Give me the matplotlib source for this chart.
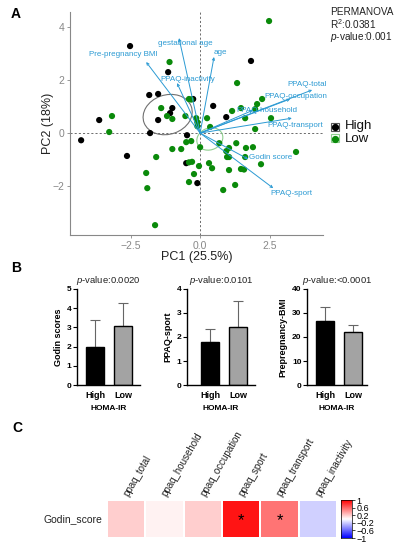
import numpy as np
import matplotlib
matplotlib.use('Agg')
import matplotlib.pyplot as plt
from matplotlib.patches import Ellipse, Rectangle
from matplotlib.colors import LinearSegmentedColormap

plt.rcParams['font.family'] = ['Liberation Sans', 'DejaVu Sans']
plt.rcParams['mathtext.fontset'] = 'custom'
plt.rcParams['mathtext.it'] = 'Liberation Sans:italic'
plt.rcParams['mathtext.rm'] = 'Liberation Sans'
plt.rcParams['mathtext.bf'] = 'Liberation Sans:bold'

# ---------------- data: panel A (PCA biplot) ----------------
pc1_high = [-2.52, -1.15, -1.83, -1.51, -0.25, -1.00, -1.08, -1.51, -3.63, -1.80,
            -4.28, -0.47, -2.63, -0.50, -0.10, 1.83, 0.47, 0.94]
pc2_high = [3.27, 2.29, 1.43, 1.47, 1.28, 0.94, 0.75, 0.49, 0.49, 0.00,
            -0.27, -0.08, -0.86, -1.13, -1.88, 2.71, 1.02, 0.60]
pc1_low = [-1.10, -0.40, -0.32, -1.40, -1.19, -1.00, -0.53, -3.17, -3.27, -0.14,
           -0.10, -0.10, -1.58, -1.00, -0.68, -0.50, -0.32, -0.40, -0.29, -1.94,
           -1.90, -0.22, -0.40, -1.62, -0.04, 0.00, 0.69, 1.30, 0.94, 1.04,
           0.97, 1.04, 1.65, 1.90, 1.62, 3.45, 0.32, 0.43, 1.04, 1.47,
           1.58, 2.19, 0.83, 1.26, 2.48, 1.33, 2.23, 2.05, 1.47, 1.15,
           1.62, 2.55, 1.98, 0.25, 0.36, 1.98]
pc2_low = [2.67, 1.28, 1.26, 0.94, 0.64, 0.53, 0.64, 0.64, 0.04, 0.56,
           0.41, 0.26, -0.90, -0.60, -0.60, -0.34, -0.30, -1.10, -1.08, -1.50,
           -2.07, -1.54, -1.84, -3.46, -1.24, -0.53, -0.38, -0.38, -0.68, -0.56,
           -0.90, -0.90, -0.56, -0.53, -0.90, -0.71, -1.13, -1.32, -1.39, -1.35,
           -1.37, -1.17, -2.14, -1.95, 4.21, 1.88, 1.28, 1.09, 0.94, 0.83,
           0.56, 0.56, 0.90, 0.56, 0.23, 0.15]

var_names = ['Pre-pregnancy BMI', 'gestational age', 'age', 'PPAQ-inactivity',
             'PPAQ-total', 'PPAQ-occupation', 'PPAQ-household', 'PPAQ-transport',
             'Godin score', 'PPAQ-sport']
load_pc1 = [-1.94, -0.76, 0.50, -0.83, 4.03, 3.24, 1.90, 3.30, 1.73, 2.63]
load_pc2 = [2.67, 3.57, 2.86, 1.88, 1.62, 1.28, 0.86, 0.56, -0.98, -2.07]

permanova_lines = ['PERMANOVA', r'R$^{2}$:0.0381', r'$\it{p}$-value:0.001']
group_names = ['High', 'Low']

# ---------------- data: panel B (bar charts) ----------------
bar_groups = ['High', 'Low']
godin_mean = [2.00, 3.05]
godin_sd = [1.37, 1.20]
sport_mean = [1.79, 2.42]
sport_sd = [0.54, 1.08]
bmi_mean = [26.6, 22.2]
bmi_sd = [5.7, 2.8]
bar_pvalues = ['0.0020', '0.0101', '<0.0001']
bar_ylabels = ['Godin scores', 'PPAQ-sport', 'Prepregnancy-BMI']
bar_xlabel = 'HOMA-IR'

# ---------------- data: panel C (correlation heatmap) ----------------
heat_cols = ['ppaq_total', 'ppaq_household', 'ppaq_occupation', 'ppaq_sport',
             'ppaq_transport', 'ppaq_inactivity']
heat_row = 'Godin_score'
heat_vals = [0.19, 0.05, 0.19, 0.92, 0.54, -0.18]
heat_sig = [False, False, False, True, True, False]
cbar_ticks = [1, 0.6, 0.2, -0.2, -0.6, -1]

# ---------------- layout helpers ----------------
W, H = 399, 550
fig = plt.figure(figsize=(W / 100, H / 100), dpi=100)


def px_axes(l, t, r, b):
    return fig.add_axes([l / W, 1 - b / H, (r - l) / W, (b - t) / H])


def fig_text(x, y, s, **kw):
    fig.text(x / W, 1 - y / H, s, **kw)


BLUE = '#2b9ad3'
GREEN = '#0a8a0a'

# ---------------- Panel A ----------------
axA = px_axes(70, 12, 323, 235)
axA.set_xlim(-4.68, 4.42)
axA.set_ylim(-3.83, 4.55)
axA.axhline(0, color='#555555', lw=0.6, ls=(0, (2.5, 2.5)), zorder=1)
axA.axvline(0, color='#555555', lw=0.6, ls=(0, (2.5, 2.5)), zorder=1)

k95 = np.sqrt(5.991)
for xs, ys, col, ecol in [(pc1_high, pc2_high, 'black', '#707070'),
                          (pc1_low, pc2_low, GREEN, '#8fcf8f')]:
    xs = np.array(xs); ys = np.array(ys)
    axA.scatter(xs, ys, s=20, color=col, edgecolors='none', zorder=3)
    cov = np.cov(xs, ys) / len(xs)
    vals, vecs = np.linalg.eigh(cov)
    ang = np.degrees(np.arctan2(vecs[1, 1], vecs[0, 1]))
    e = Ellipse((xs.mean(), ys.mean()), 2 * k95 * np.sqrt(vals[1]), 2 * k95 * np.sqrt(vals[0]),
                angle=ang, fill=False, edgecolor=ecol, lw=0.8, zorder=2)
    axA.add_patch(e)

label_off = {
    'Pre-pregnancy BMI': (-0.83, 0.30), 'gestational age': (0.22, -0.19),
    'age': (0.22, 0.18), 'PPAQ-inactivity': (0.40, 0.15),
    'PPAQ-total': (-0.18, 0.22), 'PPAQ-occupation': (0.21, 0.11),
    'PPAQ-household': (0.50, -0.03), 'PPAQ-transport': (0.12, -0.26),
    'Godin score': (0.79, 0.08), 'PPAQ-sport': (0.67, -0.19)}
for name, lx, ly in zip(var_names, load_pc1, load_pc2):
    axA.annotate('', xy=(lx, ly), xytext=(0, 0),
                 arrowprops=dict(arrowstyle='->', color=BLUE, lw=0.7,
                                 mutation_scale=4, shrinkA=0, shrinkB=0), zorder=4)
    dx, dy = label_off[name]
    axA.text(lx + dx, ly + dy, name, color=BLUE, fontsize=5.8, ha='center',
             va='center', zorder=5, clip_on=False)

for s in ['top', 'right']:
    axA.spines[s].set_visible(False)
for s in ['left', 'bottom']:
    axA.spines[s].set_color('#888888')
    axA.spines[s].set_linewidth(0.8)
axA.set_xticks([-2.5, 0.0, 2.5])
axA.set_xticklabels(['\u22122.5', '0.0', '2.5'])
axA.set_yticks([-2, 0, 2, 4])
axA.set_yticklabels(['\u22122', '0', '2', '4'])
axA.tick_params(colors='#888888', labelsize=7.5, length=2.5, width=0.6, pad=1.5)
axA.set_xlabel('PC1 (25.5%)', fontsize=9, color='#222222', labelpad=0)
axA.set_ylabel('PC2 (18%)', fontsize=9, color='#222222', labelpad=-1)

for i, s in enumerate(permanova_lines):
    fig_text(330, 12 + i * 12.5, s, fontsize=7.2, va='center', ha='left', color='#222222')

# legend
for i, (g, col, ecol) in enumerate(zip(group_names, ['black', GREEN], ['#555555', '#8fcf8f'])):
    yc = 126.5 + i * 12
    fig.patches.append(Rectangle(((331) / W, 1 - (yc + 4) / H), 8 / W, 8 / H,
                                 transform=fig.transFigure, fill=False,
                                 edgecolor=ecol, lw=0.8))
    fig.lines.append(plt.Line2D([335 / W], [1 - yc / H], marker='o', markersize=4.2,
                                color=col, transform=fig.transFigure, linestyle='none'))
    fig_text(345, yc, g, fontsize=9.5, va='center', ha='left', color='#111111')

fig_text(16, 14, 'A', fontsize=10, fontweight='bold', ha='center', va='center')
fig_text(16, 268, 'B', fontsize=10, fontweight='bold', ha='center', va='center')
fig_text(17, 428, 'C', fontsize=10, fontweight='bold', ha='center', va='center')

# ---------------- Panel B ----------------
bar_specs = [
    (77, 140, 5, [0, 1, 2, 3, 4, 5], -0.643, 1.607, godin_mean, godin_sd),
    (187, 255, 4, [0, 1, 2, 3, 4], -0.82, 1.607, sport_mean, sport_sd),
    (307, 367, 40, [0, 10, 20, 30, 40], -0.643, 1.5, bmi_mean, bmi_sd),
]
for (l, r, ymax, yt, xl, xr, means, sds), pv, ylab in zip(bar_specs, bar_pvalues, bar_ylabels):
    top = 385 - 96
    ax = px_axes(l, top, r, 385)
    ax.set_xlim(xl, xr)
    ax.set_ylim(0, ymax)
    xs = np.arange(len(bar_groups))
    ax.errorbar(xs, means, yerr=[np.zeros(len(sds)), sds], fmt='none', ecolor='#666666',
                elinewidth=0.8, capsize=3.5, capthick=0.8, zorder=1)
    ax.bar(xs, means, width=0.643, color=['black', '#a3a3a3'], edgecolor='black',
           linewidth=1.0, zorder=2)
    for s in ['top', 'right']:
        ax.spines[s].set_visible(False)
    for s in ['left', 'bottom']:
        ax.spines[s].set_linewidth(1.0)
    ax.set_yticks(yt)
    ax.set_yticklabels([str(v) for v in yt], fontweight='bold')
    ax.set_xticks(xs)
    ax.set_xticklabels(bar_groups, fontweight='bold')
    ax.tick_params(axis='y', labelsize=6, length=3, width=0.8, pad=1)
    ax.tick_params(axis='x', labelsize=6.5, length=0, pad=4)
    ax.set_ylabel(ylab, fontsize=6.5, fontweight='bold', labelpad=3)
    ax.set_xlabel(bar_xlabel, fontsize=6, fontweight='bold', labelpad=4)
    ax.set_title(r'$\it{p}$-value:' + pv, fontsize=6.8, pad=4, color='#222222')

# ---------------- Panel C ----------------
cmap = LinearSegmentedColormap.from_list('bwr2', ['blue', 'white', 'red'])
axC = px_axes(107, 500, 337, 538)
vals = np.array([heat_vals])
axC.pcolormesh(np.arange(len(heat_cols) + 1), [0, 1], vals, cmap=cmap, vmin=-1, vmax=1,
               edgecolors='white', linewidth=1.2)
axC.set_xlim(0, len(heat_cols))
axC.set_ylim(0, 1)
axC.axis('off')
for i, (c, sig) in enumerate(zip(heat_cols, heat_sig)):
    axC.text(i + 0.5, 1.12, c, rotation=60, rotation_mode='anchor', ha='left',
             va='center', fontsize=7, color='#222222', clip_on=False)
    if sig:
        axC.text(i + 0.5, 0.45, '*', ha='center', va='center', fontsize=12, color='black')
axC.text(-0.13, 0.5, heat_row, ha='right', va='center', fontsize=7.5, color='#222222',
         clip_on=False)

axCB = px_axes(341, 500, 352, 538)
grad = np.linspace(-1, 1, 256).reshape(-1, 1)
axCB.imshow(grad, aspect='auto', cmap=cmap, origin='lower', extent=[0, 1, -1, 1])
axCB.set_xticks([])
axCB.yaxis.tick_right()
axCB.set_yticks(cbar_ticks)
axCB.set_yticklabels([('\u2212' + str(abs(t))) if t < 0 else str(t) for t in cbar_ticks])
axCB.tick_params(axis='y', labelsize=6.5, length=2, width=0.5, pad=1)
for s in axCB.spines.values():
    s.set_linewidth(0.5)

fig.savefig('out.png', dpi=100)
